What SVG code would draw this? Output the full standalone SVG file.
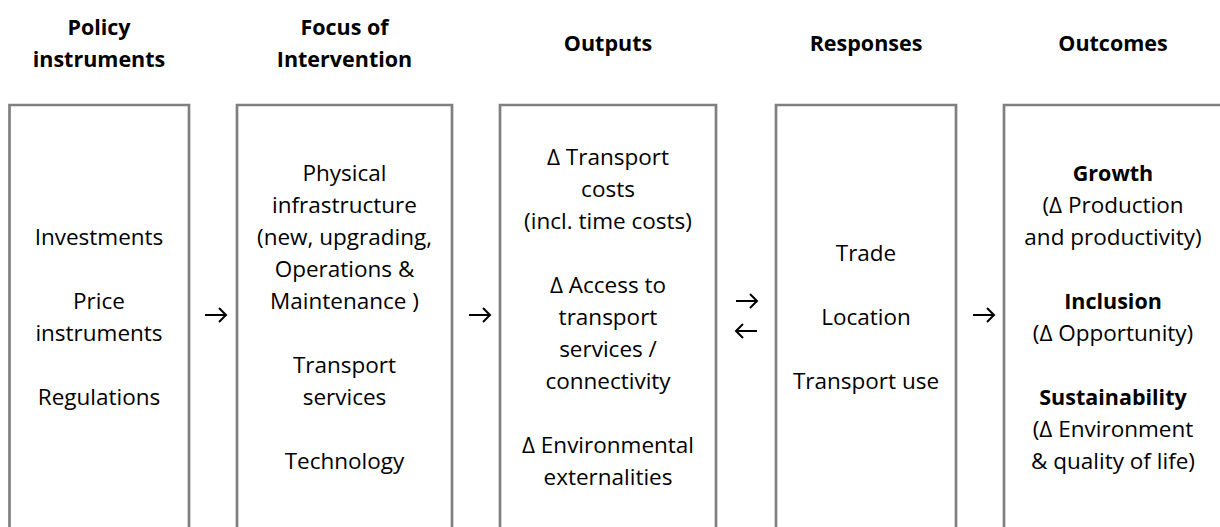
<svg xmlns="http://www.w3.org/2000/svg" width="1220" height="527" viewBox="0 0 1220 527">
<defs>
<style>
.box{fill:none;stroke:#808080;stroke-width:2.7}
.hd{font-family:"Open Sans","Liberation Sans",sans-serif;font-weight:bold;font-size:21.5px;fill:#000;text-anchor:middle}
.tx{font-family:"Open Sans","Liberation Sans",sans-serif;font-size:22.5px;fill:#000;text-anchor:middle}
.b{font-weight:bold;font-size:21.5px}
.arr{fill:none;stroke:#000;stroke-width:2}
</style>
</defs>
<rect width="1220" height="527" fill="#fff"/>
<g id="policy">
<path class="box" d="M9.5,530 V105 H189 V530"/>
<text class="hd" x="99" y="35">Policy</text>
<text class="hd" x="99" y="67">instruments</text>
<text class="tx" x="99" y="245">Investments</text>
<text class="tx" x="99" y="309">Price</text>
<text class="tx" x="99" y="341">instruments</text>
<text class="tx" x="99" y="405">Regulations</text>
</g>
<g id="focus">
<path class="box" d="M237,530 V105 H452 V530"/>
<text class="hd" x="344.5" y="35">Focus of</text>
<text class="hd" x="344.5" y="67">Intervention</text>
<text class="tx" x="344.5" y="181">Physical</text>
<text class="tx" x="344.5" y="213">infrastructure</text>
<text class="tx" x="344.5" y="245">(new, upgrading,</text>
<text class="tx" x="344.5" y="277">Operations &amp;</text>
<text class="tx" x="344.5" y="309">Maintenance )</text>
<text class="tx" x="344.5" y="373">Transport</text>
<text class="tx" x="344.5" y="405">services</text>
<text class="tx" x="344.5" y="469">Technology</text>
</g>
<g id="outputs">
<path class="box" d="M500,530 V105 H716 V530"/>
<text class="hd" x="608" y="51">Outputs</text>
<text class="tx" x="608" y="165">Δ Transport</text>
<text class="tx" x="608" y="197">costs</text>
<text class="tx" x="608" y="229">(incl. time costs)</text>
<text class="tx" x="608" y="293">Δ Access to</text>
<text class="tx" x="608" y="325">transport</text>
<text class="tx" x="608" y="357">services /</text>
<text class="tx" x="608" y="389">connectivity</text>
<text class="tx" x="608" y="453">Δ Environmental</text>
<text class="tx" x="608" y="485">externalities</text>
</g>
<g id="responses">
<path class="box" d="M776,530 V105 H956 V530"/>
<text class="hd" x="866" y="51">Responses</text>
<text class="tx" x="866" y="261">Trade</text>
<text class="tx" x="866" y="325">Location</text>
<text class="tx" x="866" y="389">Transport use</text>
</g>
<g id="outcomes">
<path class="box" d="M1004,530 V105 H1223 V530"/>
<text class="hd" x="1113" y="51">Outcomes</text>
<text class="tx b" x="1113" y="181">Growth</text>
<text class="tx" x="1113" y="213">(Δ Production</text>
<text class="tx" x="1113" y="245">and productivity)</text>
<text class="tx b" x="1113" y="309">Inclusion</text>
<text class="tx" x="1113" y="341">(Δ Opportunity)</text>
<text class="tx b" x="1113" y="405">Sustainability</text>
<text class="tx" x="1113" y="437">(Δ Environment</text>
<text class="tx" x="1113" y="469">&amp; quality of life)</text>
</g>
<g id="connectors">
<path class="arr" d="M205,315 H226 M219,308 L226,315 L219,322"/>
<path class="arr" d="M469,315 H490 M483,308 L490,315 L483,322"/>
<path class="arr" d="M736,301 H757 M750,294 L757,301 L750,308"/>
<path class="arr" d="M757,331 H736 M743,324 L736,331 L743,338"/>
<path class="arr" d="M973,315 H994 M987,308 L994,315 L987,322"/>
</g>
</svg>
